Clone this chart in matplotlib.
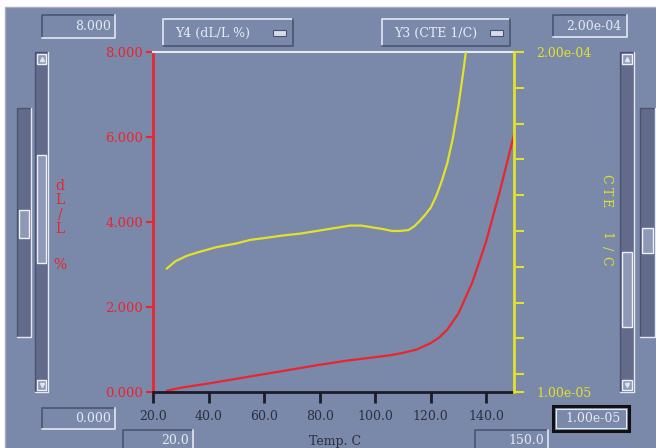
import numpy as np
import matplotlib
matplotlib.use('Agg')
import matplotlib.pyplot as plt
from matplotlib.patches import Rectangle

# dL/L (%) vs temperature
temp_dl = [25, 30, 40, 50, 60, 70, 80, 90, 100, 105, 110, 115, 120, 123, 126, 130, 135, 140, 145, 150]
dl = [0.03, 0.10, 0.20, 0.31, 0.42, 0.53, 0.64, 0.74, 0.82, 0.86, 0.92, 1.00, 1.15, 1.28, 1.47, 1.85, 2.58, 3.55, 4.75, 6.05]

# CTE (1/C) vs temperature
temp_cte = [25, 28, 32, 36, 43, 50, 55, 60, 67, 73, 79, 85, 91, 95, 99, 103, 106, 109, 112, 114,
             116, 118, 120, 122, 124, 126, 128, 130, 132, 133, 134]
cte = [7.9e-5, 8.3e-5, 8.6e-5, 8.8e-5, 9.1e-5, 9.3e-5, 9.5e-5, 9.6e-5, 9.75e-5, 9.85e-5, 10.0e-5,
       10.15e-5, 10.3e-5, 10.3e-5, 10.2e-5, 10.1e-5, 10.0e-5, 10.0e-5, 10.05e-5, 10.25e-5,
       10.55e-5, 10.9e-5, 11.3e-5, 11.95e-5, 12.8e-5, 13.8e-5, 15.2e-5, 17.0e-5, 19.2e-5, 20.4e-5, 21.6e-5]

temp_ticks = [20, 40, 60, 80, 100, 120, 140]
dl_ticks = [0, 2, 4, 6, 8]
cte_ticks = [1e-5, 2e-5, 4e-5, 6e-5, 8e-5, 1e-4, 1.2e-4, 1.4e-4, 1.6e-4, 1.8e-4, 2e-4]
cte_labels = ['1.00e-05', '', '', '', '', '', '', '', '', '', '2.00e-04']

plt.rcParams['font.family'] = ['DejaVu Serif']

BG = '#7a88a9'
DARK = '#4b5472'
LIGHT = '#e4e8f0'
TROUGH = '#626b8a'
RED = '#e8262e'
YEL = '#e2e22a'
TXT = '#2c3040'

fig = plt.figure(figsize=(6.56, 4.48), dpi=100)
fig.patch.set_facecolor('white')

# background panel in pixel coordinates
bg = fig.add_axes([0, 0, 1, 1], zorder=0)
bg.set_xlim(0, 656)
bg.set_ylim(448, 0)
bg.axis('off')
bg.add_patch(Rectangle((5, 7), 652, 442, facecolor=BG, edgecolor='#a9afc0', lw=1))


def bevel(x0, y0, x1, y1, tl, br, fill=None, lw=1.2):
    if fill:
        bg.add_patch(Rectangle((x0, y0), x1 - x0, y1 - y0, facecolor=fill, edgecolor='none'))
    bg.plot([x0, x0, x1], [y1, y0, y0], color=tl, lw=lw)
    bg.plot([x0, x1, x1], [y1, y1, y0], color=br, lw=lw)


def scroll(x0, x1, y0, y1, t0, t1, arrows=True):
    bevel(x0, y0, x1, y1, DARK, LIGHT, fill=TROUGH, lw=1)
    bg.add_patch(Rectangle((x0 + 2, t0), x1 - x0 - 4, t1 - t0, facecolor='#8d99b6',
                           edgecolor='#eef0f6', lw=1))
    if arrows:
        for ya, mk in [(y0 + 2, '^'), (y1 - 12, 'v')]:
            bg.add_patch(Rectangle((x0 + 2, ya), x1 - x0 - 4, 10, facecolor='#8d99b6',
                                   edgecolor='#eef0f6', lw=1))
            bg.plot([(x0 + x1) / 2], [ya + 5], marker=mk, ms=3, color='#dfe3ec')


# text boxes
bevel(42, 15, 115, 38, DARK, LIGHT)
bg.text(111, 27, '8.000', ha='right', va='center', color=LIGHT, fontsize=9)
bevel(553, 15, 627, 37, DARK, LIGHT)
bg.text(621, 26, '2.00e-04', ha='right', va='center', color=LIGHT, fontsize=9)
bevel(42, 408, 115, 429, DARK, LIGHT)
bg.text(111, 419, '0.000', ha='right', va='center', color=LIGHT, fontsize=9)
bevel(123, 430, 193, 452, DARK, LIGHT)
bg.text(189, 441, '20.0', ha='right', va='center', color=LIGHT, fontsize=9)
bevel(475, 430, 548, 452, DARK, LIGHT)
bg.text(544, 441, '150.0', ha='right', va='center', color=LIGHT, fontsize=9)
bg.add_patch(Rectangle((553, 406), 76, 25, facecolor='none', edgecolor='#111111', lw=2.2))
bg.add_patch(Rectangle((556, 409), 70, 19, facecolor='none', edgecolor=LIGHT, lw=0.8))
bg.text(621, 419, '1.00e-05', ha='right', va='center', color=LIGHT, fontsize=9)

# dropdown buttons
for x0, x1, label in [(163, 293, 'Y4 (dL/L %)'), (382, 510, 'Y3 (CTE 1/C)')]:
    bevel(x0, 19, x1, 46, LIGHT, DARK, fill=BG)
    bg.text(x0 + 12, 33, label, ha='left', va='center', color='#e8ecf4', fontsize=9)
    bg.add_patch(Rectangle((x1 - 20, 30), 13, 6, facecolor='#d8dce8', edgecolor=DARK, lw=0.8))

# scrollbars
scroll(35, 48, 52, 392, 155, 263)
scroll(17, 31, 108, 337, 210, 238, arrows=False)
scroll(620, 634, 52, 392, 252, 327)
scroll(640, 655, 108, 337, 228, 253, arrows=False)

# axis titles
for ch, y in zip(['d', 'L', '/', 'L', '%'], [186, 200, 214, 229, 265]):
    bg.text(60, y, ch, ha='center', va='center', color=RED, fontsize=10)
for ch, y in zip(['C', 'T', 'E', '1', '/', 'C'], [179, 191, 203, 236, 248, 261]):
    bg.text(606, y, ch, ha='center', va='center', color=YEL, fontsize=9, rotation=-90)
bg.text(335, 441, 'Temp. C', ha='center', va='center', color=TXT, fontsize=9)

# plot
ax = fig.add_axes([153 / 656, 56 / 448, 361 / 656, 340 / 448], zorder=2)
ax.patch.set_alpha(0)
ax.plot(temp_dl, dl, color=RED, lw=1.6)
ax.set_xlim(20, 150)
ax.set_ylim(0, 8)
ax.set_xticks(temp_ticks, labels=[f'{t:.1f}' for t in temp_ticks])
ax.set_yticks(dl_ticks, labels=[f'{v:.3f}' for v in dl_ticks])
ax.tick_params(axis='x', direction='out', length=8, width=2, color='#1c1c28',
               labelcolor=TXT, labelsize=9, pad=5)
ax.tick_params(axis='y', direction='out', length=5, width=1.5, color=RED,
               labelcolor=RED, labelsize=9.5, pad=2)
ax.spines['top'].set_color('#e6e9f2')
ax.spines['top'].set_linewidth(1.5)
ax.spines['right'].set_visible(False)
ax.spines['left'].set_color(RED)
ax.spines['left'].set_linewidth(2)
ax.spines['bottom'].set_color('#1c1c28')
ax.spines['bottom'].set_linewidth(2)

ax2 = ax.twinx()
ax2.set_zorder(3)
ax2.patch.set_visible(False)
ax2.plot(temp_cte, cte, color=YEL, lw=1.6)
ax2.set_ylim(1e-5, 2e-4)
ax2.set_yticks(cte_ticks, labels=cte_labels)
ax2.tick_params(axis='y', direction='out', length=7, width=1.5, color=YEL,
                labelcolor=YEL, labelsize=9, pad=9)
for s in ['top', 'left', 'bottom']:
    ax2.spines[s].set_visible(False)
ax2.spines['right'].set_color(YEL)
ax2.spines['right'].set_linewidth(2)

fig.savefig('out.png', dpi=100)
